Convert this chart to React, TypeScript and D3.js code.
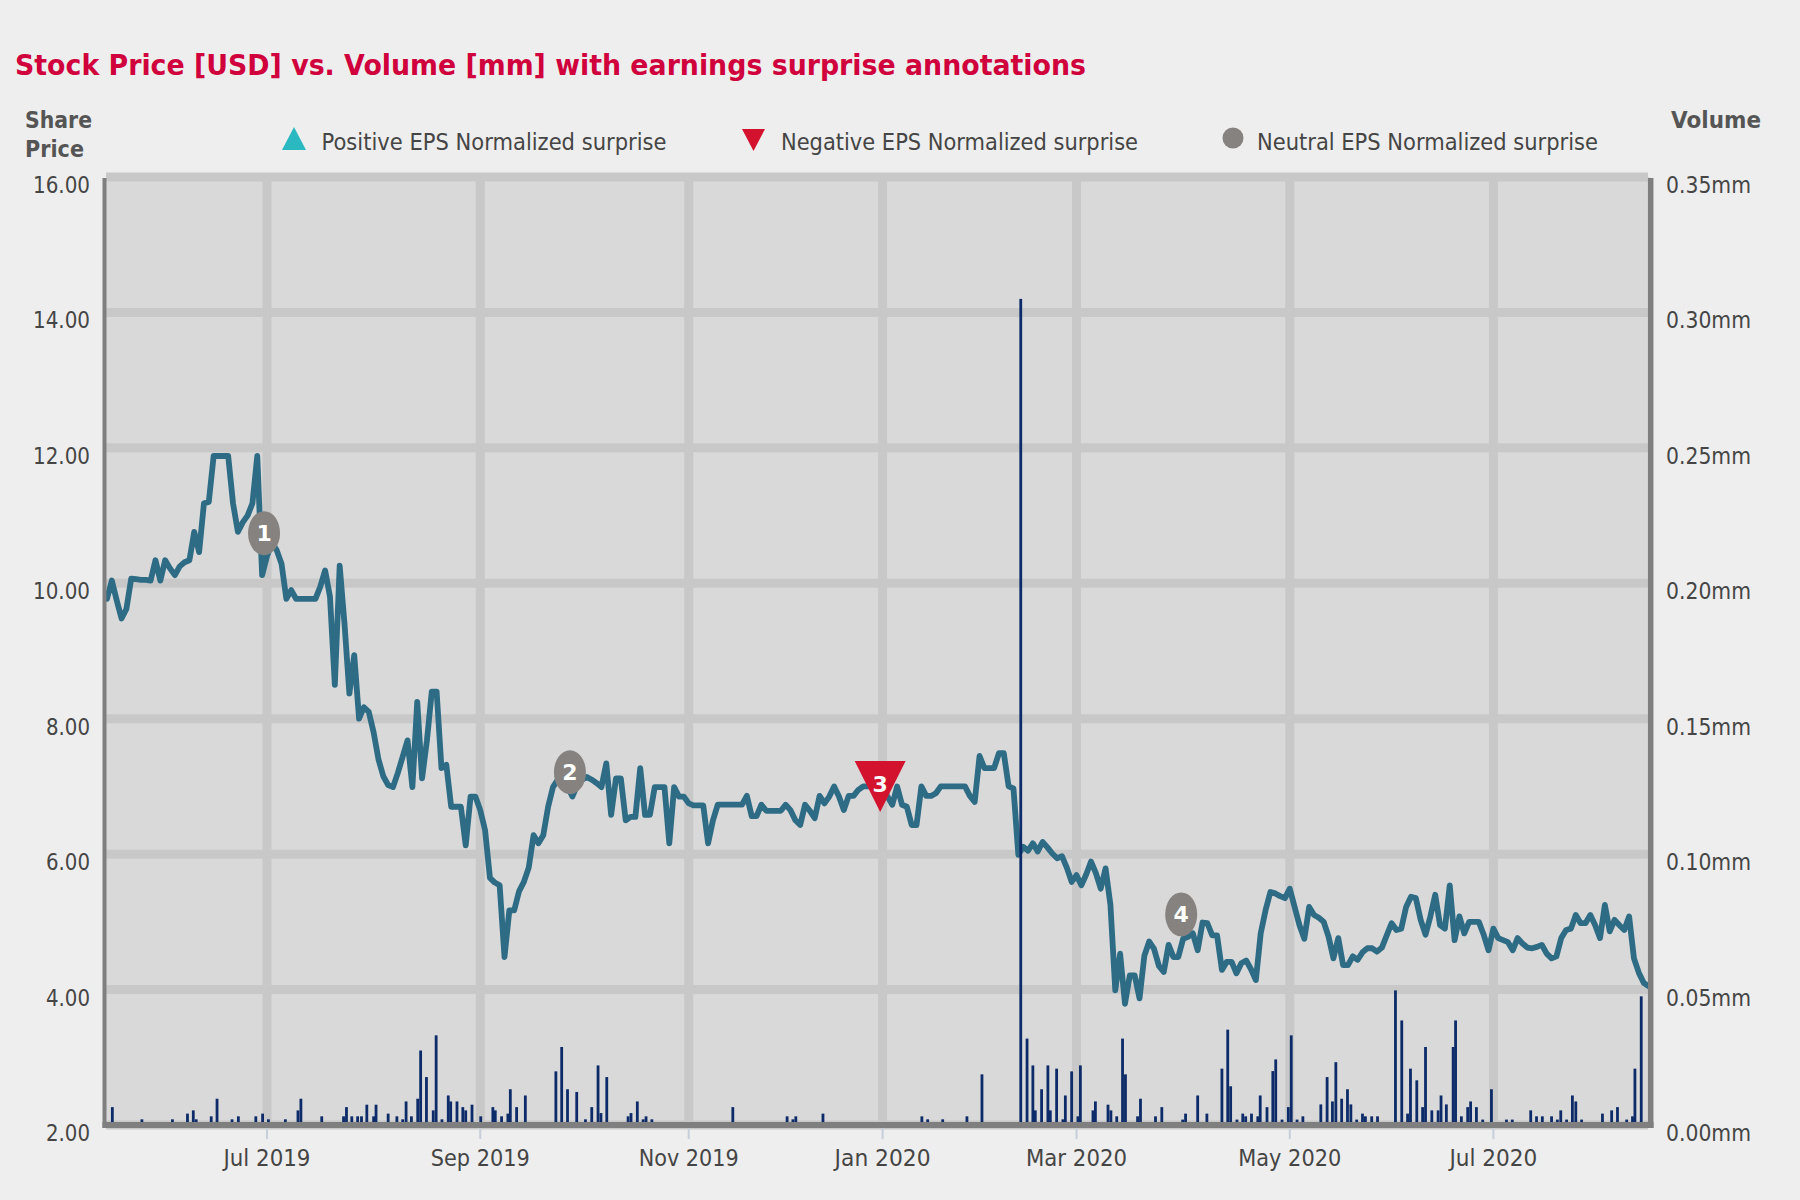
import React from 'react';
import * as d3 from 'd3';

// ---- data (x position = trading-session index) ----
const priceSeries: number[] = [
  9.77, 10.04, 9.75, 9.48, 9.62, 10.07, 10.06, 10.05, 10.05, 10.04,
  10.34, 10.04, 10.34, 10.22, 10.12, 10.25, 10.31, 10.34, 10.76, 10.46,
  11.18, 11.2, 11.88, 11.88, 11.88, 11.88, 11.18, 10.76, 10.9, 11.0,
  11.18, 11.88, 10.12, 10.4, 10.6, 10.49, 10.29, 9.77, 9.9, 9.77,
  9.77, 9.77, 9.77, 9.77, 9.95, 10.19, 9.8, 8.5, 10.26, 9.4,
  8.37, 8.94, 8.0, 8.17, 8.1, 7.8, 7.4, 7.15, 7.02, 6.99,
  7.2, 7.44, 7.68, 6.99, 8.25, 7.12, 7.68, 8.4, 8.4, 7.27,
  7.32, 6.7, 6.7, 6.7, 6.13, 6.85, 6.85, 6.65, 6.35, 5.65,
  5.58, 5.54, 4.48, 5.17, 5.17, 5.45, 5.59, 5.8, 6.28, 6.16,
  6.28, 6.7, 6.99, 7.1, 7.15, 7.0, 6.85, 7.02, 7.1, 7.14,
  7.1, 7.05, 6.99, 7.34, 6.58, 7.12, 7.12, 6.5, 6.55, 6.55,
  7.27, 6.58, 6.58, 6.99, 6.99, 6.99, 6.16, 6.99, 6.85, 6.85,
  6.75, 6.72, 6.72, 6.72, 6.16, 6.5, 6.73, 6.73, 6.73, 6.73,
  6.73, 6.73, 6.86, 6.56, 6.56, 6.73, 6.64, 6.64, 6.64, 6.64,
  6.73, 6.65, 6.5, 6.43, 6.73, 6.64, 6.53, 6.86, 6.75, 6.85,
  7.0, 6.85, 6.65, 6.86, 6.86, 6.95, 7.0, 7.0, 7.05, 6.9,
  7.0, 6.85, 6.73, 7.0, 6.73, 6.7, 6.43, 6.43, 7.0, 6.86,
  6.86, 6.9, 7.0, 7.0, 7.0, 7.0, 7.0, 7.0, 6.86, 6.77,
  7.45, 7.27, 7.27, 7.27, 7.49, 7.49, 7.0, 6.97, 5.99, 6.11,
  6.05, 6.16, 6.04, 6.18, 6.1, 6.01, 5.94, 5.97, 5.8, 5.59,
  5.69, 5.54, 5.7, 5.89, 5.72, 5.49, 5.79, 5.25, 3.99, 4.53,
  3.79, 4.21, 4.21, 3.87, 4.5, 4.71, 4.6, 4.35, 4.26, 4.66,
  4.48, 4.48, 4.75, 4.78, 4.83, 4.58, 4.99, 4.98, 4.8, 4.8,
  4.29, 4.41, 4.41, 4.24, 4.39, 4.43, 4.3, 4.14, 4.83, 5.17,
  5.44, 5.42, 5.38, 5.35, 5.49, 5.22, 4.95, 4.75, 5.22, 5.1,
  5.06, 5.0, 4.78, 4.46, 4.76, 4.36, 4.36, 4.49, 4.44, 4.55,
  4.61, 4.61, 4.56, 4.62, 4.8, 4.98, 4.88, 4.9, 5.22, 5.37,
  5.35, 5.03, 4.81, 5.08, 5.4, 4.95, 4.9, 5.54, 4.73, 5.08,
  4.83, 5.0, 5.0, 5.0, 4.81, 4.58, 4.9, 4.76, 4.73, 4.7,
  4.58, 4.76, 4.68, 4.62, 4.61, 4.63, 4.66, 4.53, 4.46, 4.49,
  4.76, 4.88, 4.9, 5.1, 4.98, 4.98, 5.1, 4.95, 4.76, 5.25,
  4.86, 5.03, 4.95, 4.88, 5.08, 4.46, 4.25, 4.1, 4.05,
];

// volume bars: axis position and volume in thousands of shares
const volumePos: number[] = [
  1.1, 7.2, 13.5, 16.6, 17.8, 18.4, 21.5, 22.7, 25.8, 27.1,
  30.7, 32.1, 33.3, 36.8, 39.4, 40, 44.3, 48.8, 49.4, 50.5,
  51.7, 52.5, 53.6, 55, 55.5, 58, 59.8, 61, 61.7, 62.8,
  64.1, 64.7, 65.9, 67.3, 67.9, 69.1, 70.4, 70.9, 72.2, 73.4,
  74, 75.3, 77.1, 79.6, 80.1, 81.4, 82.7, 83.2, 84.5, 86.3,
  92.6, 93.8, 95, 96.9, 98.7, 100, 101.3, 101.9, 103.1, 107.5,
  108.1, 109.4, 110.6, 111.2, 112.4, 129.1, 140.3, 141.5, 142.1, 147.7,
  168.1, 169.3, 172.4, 177.4, 180.5, 188.5, 189.8, 191, 191.5, 192.8,
  194.1, 194.6, 195.9, 197.2, 197.7, 199, 200.3, 200.8, 203.4, 203.9,
  206.5, 207.1, 208.3, 209.5, 210.1, 212.6, 213.2, 216.3, 217.6, 221.9,
  222.5, 225, 226.9, 230, 231.2, 231.8, 233.1, 234.3, 234.9, 236.1,
  237.4, 237.9, 239.3, 240.5, 241.1, 242.4, 243.7, 244.3, 245.5, 246.7,
  250.4, 251.7, 252.8, 253.5, 254.7, 255.9, 256.6, 257.8, 259, 259.6,
  260.9, 262.1, 265.8, 267.1, 268.3, 268.9, 270.2, 271.4, 272, 273.3,
  274.6, 275.2, 276.3, 277.7, 278.2, 279.4, 280.7, 281.3, 282.5, 283.8,
  285.6, 288.7, 289.9, 293.7, 294.9, 296.1, 298, 299.2, 299.9, 301.1,
  302.3, 303, 304.2, 308.5, 310.4, 311.6, 313.5, 314.7, 315.2, 316.5,
];
const volumeK: number[] = [
  6.6, 2.1, 2.1, 4.2, 5.4, 2.1, 3.2, 9.7, 2.1, 3.2,
  3.2, 4.2, 2.1, 2.1, 5.4, 9.7, 3.2, 3.2, 6.6, 3.2,
  3.2, 3.2, 7.5, 3.2, 7.5, 4.2, 3.2, 2.1, 8.7, 3.2,
  9.7, 27.5, 17.7, 5.4, 33.1, 2.1, 10.9, 8.7, 8.7, 6.6,
  5.4, 7.5, 3.2, 6.6, 5.4, 3.2, 4.2, 13.2, 6.6, 10.9,
  19.8, 28.8, 13.2, 12.2, 2.1, 6.6, 22, 4.4, 17.7, 3.2,
  4.4, 8.7, 2.1, 3.2, 2.1, 6.6, 3.2, 2.1, 3.2, 4.2,
  3.2, 2.1, 2.1, 3.2, 18.7, 305, 31.9, 22, 5.4, 13.2,
  22, 5.4, 20.8, 2.1, 10.9, 19.8, 3.2, 22, 5.4, 8.7,
  7.5, 5.4, 3.2, 31.9, 18.7, 3.2, 9.7, 3.2, 6.6, 2,
  4.2, 10.9, 4.2, 20.8, 35.2, 14.3, 2, 4.2, 3.2, 4.2,
  3.2, 10.9, 6.6, 19.9, 24.2, 2, 6.6, 33.1, 2, 3.2,
  7.6, 17.7, 8.7, 23.2, 9.7, 13.2, 7.6, 2, 4.2, 3.2,
  3.2, 3.2, 49.7, 38.6, 4.2, 20.8, 16.5, 6.6, 28.8, 5.4,
  5.4, 10.9, 7.6, 28.8, 38.6, 3.2, 6.6, 8.7, 6.6, 2,
  13.2, 2, 2, 5.4, 3.2, 3.2, 3.2, 2, 5.4, 2,
  10.9, 8.7, 2, 4.2, 5.4, 6.6, 2, 3.2, 20.8, 47.5,
];

const priceTicks: number[] = [2, 4, 6, 8, 10, 12, 14, 16];
const volumeTicks: number[] = [0, 0.05, 0.1, 0.15, 0.2, 0.25, 0.3, 0.35];
const monthTickPos: number[] = [33, 77, 120, 160, 200, 244, 286];
const monthTickLabels: string[] = ['Jul 2019', 'Sep 2019', 'Nov 2019', 'Jan 2020', 'Mar 2020', 'May 2020', 'Jul 2020'];

const surprisePos: number[] = [32.4, 95.5, 159.5, 221.6];
const surprisePrice: number[] = [10.74, 7.21, 7.0, 5.11];
const surpriseType: string[] = ['neutral', 'neutral', 'negative', 'neutral'];
const surpriseLabel: string[] = ['1', '2', '3', '4'];

const legendLabels: string[] = [
  'Positive EPS Normalized surprise',
  'Negative EPS Normalized surprise',
  'Neutral EPS Normalized surprise',
];
const titleText = 'Stock Price [USD] vs. Volume [mm] with earnings surprise annotations';

// ---- styling / layout ----
const W = 1800;
const H = 1200;
const X0 = 107;
const X1 = 1648.5;
const YT = 177;
const YB = 1125;
const FONT = '"DejaVu Sans", Tahoma, Verdana, sans-serif';
const C = {
  page: '#EEEEEE',
  plot: '#D9D9D9',
  grid: '#C8C8C8',
  axis: '#7F7F7F',
  line: '#2E6C86',
  bar: '#0C2B68',
  title: '#D0003C',
  text: '#454545',
  label: '#555555',
  pos: '#2AB9C0',
  neg: '#D3132E',
  neu: '#858280',
};
const xLabelWidths = [87, 99, 100, 96, 101, 103, 88];
const legendX = [321.5, 781, 1257];
const legendW = [345, 357, 341];

export default function App() {
  const x = d3.scaleLinear().domain([0, priceSeries.length - 1]).range([X0, X1]);
  const yP = d3.scaleLinear().domain([2, 16]).range([YB, YT]);
  const yV = d3.scaleLinear().domain([0, 0.35]).range([YB, YT]);

  const linePath = d3
    .line<number>()
    .x((_, i) => x(i))
    .y((d) => yP(d))(priceSeries) as string;

  return (
    <svg
      width={W}
      height={H}
      viewBox={`0 0 ${W} ${H}`}
      style={{ position: 'absolute', left: 0, top: 0, fontFamily: FONT }}
    >
      <rect x={0} y={0} width={W} height={H} fill={C.page} />

      {/* title */}
      <text x={15} y={75} fontSize={28} fontWeight="bold" fill={C.title} textLength={1071} lengthAdjust="spacingAndGlyphs">
        {titleText}
      </text>

      {/* axis titles */}
      <text x={25} y={128} fontSize={23} fontWeight="bold" fill={C.label} textLength={67} lengthAdjust="spacingAndGlyphs">Share</text>
      <text x={25} y={157} fontSize={23} fontWeight="bold" fill={C.label} textLength={59} lengthAdjust="spacingAndGlyphs">Price</text>
      <text x={1671} y={128} fontSize={23} fontWeight="bold" fill={C.label} textLength={90} lengthAdjust="spacingAndGlyphs">Volume</text>

      {/* legend */}
      <polygon points="282,150 306,150 294,127" fill={C.pos} />
      <polygon points="742,129 765,129 753.5,151" fill={C.neg} />
      <circle cx={1233} cy={138} r={10.5} fill={C.neu} />
      {legendLabels.map((l, i) => (
        <text key={l} x={legendX[i]} y={150} fontSize={23.5} fill={C.text} textLength={legendW[i]} lengthAdjust="spacingAndGlyphs">
          {l}
        </text>
      ))}

      {/* plot background */}
      <rect x={106} y={YT} width={1544} height={YB - YT} fill={C.plot} />

      {/* grid */}
      {priceTicks.map((t) => (
        <line key={'h' + t} x1={106} x2={1648} y1={yP(t)} y2={yP(t)} stroke={C.grid} strokeWidth={9} />
      ))}
      {monthTickPos.map((p) => (
        <line key={'v' + p} x1={x(p)} x2={x(p)} y1={YT} y2={YB} stroke={C.grid} strokeWidth={9} />
      ))}

      {/* price line */}
      <path d={linePath} fill="none" stroke={C.line} strokeWidth={5.8} strokeLinejoin="round" strokeLinecap="round" />

      {/* volume bars */}
      {volumePos.map((p, i) => (
        <rect
          key={'b' + i}
          x={x(p) - 1.4}
          width={2.8}
          y={yV(volumeK[i] / 1000)}
          height={YB - yV(volumeK[i] / 1000)}
          fill={C.bar}
        />
      ))}

      {/* axes */}
      <line x1={104.5} x2={104.5} y1={178} y2={1128} stroke={C.axis} strokeWidth={4} />
      <line x1={1650.7} x2={1650.7} y1={178} y2={1128} stroke={C.axis} strokeWidth={5.5} />
      <line x1={102.5} x2={1653.5} y1={YB} y2={YB} stroke={C.axis} strokeWidth={6} />

      {/* x ticks and labels */}
      {monthTickPos.map((p, i) => (
        <g key={'xt' + p}>
          <line x1={x(p)} x2={x(p)} y1={1128} y2={1139} stroke="#C6CEDA" strokeWidth={2} />
          <text x={x(p)} y={1166} fontSize={23.5} fill={C.text} textAnchor="middle" textLength={xLabelWidths[i]} lengthAdjust="spacingAndGlyphs">
            {monthTickLabels[i]}
          </text>
        </g>
      ))}

      {/* left ticks */}
      {priceTicks.map((t) => {
        const s = t.toFixed(2);
        return (
          <text key={'lt' + t} x={90} y={yP(t) + 16} fontSize={23.5} fill={C.text} textAnchor="end" textLength={s.length === 5 ? 57 : 44} lengthAdjust="spacingAndGlyphs">
            {s}
          </text>
        );
      })}

      {/* right ticks */}
      {volumeTicks.map((t) => (
        <text key={'rt' + t} x={1666} y={yV(t) + 16} fontSize={23.5} fill={C.text} textLength={85} lengthAdjust="spacingAndGlyphs">
          {t.toFixed(2) + 'mm'}
        </text>
      ))}

      {/* earnings surprise markers */}
      {surprisePos.map((p, i) => {
        const cx = x(p);
        const cy = yP(surprisePrice[i]);
        const type = surpriseType[i];
        if (type === 'negative') {
          return (
            <g key={'m' + i}>
              <polygon points={`${cx - 25.5},${cy - 25.5} ${cx + 25.5},${cy - 25.5} ${cx},${cy + 25.5}`} fill={C.neg} />
              <text x={cx} y={cy + 5.5} fontSize={22} fontWeight="bold" fill="#FFFFFF" textAnchor="middle">
                {surpriseLabel[i]}
              </text>
            </g>
          );
        }
        if (type === 'positive') {
          return (
            <g key={'m' + i}>
              <polygon points={`${cx - 25.5},${cy + 25.5} ${cx + 25.5},${cy + 25.5} ${cx},${cy - 25.5}`} fill={C.pos} />
              <text x={cx} y={cy + 14} fontSize={22} fontWeight="bold" fill="#FFFFFF" textAnchor="middle">
                {surpriseLabel[i]}
              </text>
            </g>
          );
        }
        return (
          <g key={'m' + i}>
            <ellipse cx={cx} cy={cy} rx={16} ry={22} fill={C.neu} />
            <text x={cx} y={cy + 8} fontSize={22} fontWeight="bold" fill="#FFFFFF" textAnchor="middle">
              {surpriseLabel[i]}
            </text>
          </g>
        );
      })}
    </svg>
  );
}
